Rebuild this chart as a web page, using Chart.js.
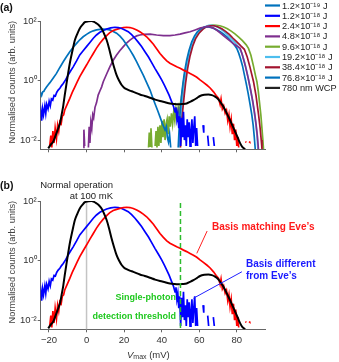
<!DOCTYPE html>
<html>
<head>
<meta charset="utf-8">
<script src="https://cdn.jsdelivr.net/npm/chart.js@4.4.1/dist/chart.umd.min.js"></script>
<style>
  body { margin: 0; background: #fff; width: 339px; height: 362px; overflow: hidden; position: relative; }
  canvas { position: absolute; left: 0; }
  #chartA { top: 0; }
  #chartB { top: 170px; }
</style>
</head>
<body>
<canvas id="chartA" width="339" height="170"></canvas>
<canvas id="chartB" width="339" height="192"></canvas>
<script>
// Axis ranges and ticks (Vmax in mV, counts on log scale)
const xMin = -24.4;
const xMax = 95;
const xTicks = [-20, 0, 20, 40, 60, 80];
const yMin = 0.0049;
const yMax = 100;
const yTicks = [0.01, 1, 100];
const yTickLabels = ["10\u207B\u00B2", "10\u2070", "10\u00B2"];

// Each series: [Vmax (mV), log10 of normalised counts]; null = no counts
const wcp = [[-20.4,-2.28],[-19,-2.15],[-17.8,-2.06],[-16.5,-1.85],[-15.1,-1.61],[-14,-1.4],[-13.3,-1.16],[-12.4,-0.85],[-11.6,-0.49],[-10.7,-0.12],[-9.8,0.24],[-8.9,0.58],[-8,0.86],[-7.1,1.12],[-6.2,1.36],[-4.9,1.57],[-3.6,1.75],[-2.2,1.87],[-0.9,1.96],[1,1.99],[2.7,2],[4,1.97],[5.3,1.92],[6.7,1.85],[8,1.75],[9.3,1.58],[10.7,1.36],[12,1.08],[13.3,0.75],[14.7,0.44],[16,0.18],[17.3,0],[18.7,-0.15],[20,-0.24],[21.3,-0.29],[23,-0.34],[24.9,-0.38],[28.4,-0.47],[31,-0.52],[33.8,-0.58],[36.5,-0.64],[39.1,-0.69],[41.8,-0.73],[44.4,-0.77],[46.7,-0.79],[48.9,-0.8],[51,-0.79],[53.3,-0.77],[55,-0.72],[56.9,-0.66],[58.7,-0.59],[60.4,-0.52],[62.7,-0.48],[64.9,-0.47],[66.7,-0.49],[68.4,-0.54],[70,-0.62],[71.1,-0.71],[72.5,-0.84],[73.8,-0.99],[75.1,-1.16],[76.4,-1.33],[77.8,-1.53],[79.1,-1.72],[80.5,-1.92],[81.8,-2.11],[83,-2.24],[84.4,-2.31]];

const e12 = [[-24.9,-1.25],[-24.4,-1],[-23.9,-1.35],[-23.4,-0.95],[-22.9,-1.15],[-22.2,-0.85],[-21.7,-1.1],[-21.2,-0.8],[-20.5,-0.95],[-19.9,-0.7],[-19.3,-0.85],[-18.7,-0.62],[-18,-0.66],[-17.3,-0.5],[-16.6,-0.52],[-15.9,-0.4],[-15.1,-0.32],[-14.2,-0.26],[-13.3,-0.17],[-12.4,-0.1],[-11.1,0.03],[-9.8,0.18],[-8.5,0.32],[-7.1,0.46],[-5.3,0.66],[-3.6,0.86],[-1.8,1],[0,1.14],[1.8,1.28],[3.6,1.42],[5.3,1.53],[7.1,1.62],[8.9,1.68],[10.7,1.73],[12.9,1.77],[15.1,1.79],[16.9,1.78],[18.7,1.75],[20.4,1.7],[22.2,1.64],[24,1.54],[25.8,1.42],[27.5,1.29],[29.3,1.14],[31.1,0.97],[32.9,0.8],[34.6,0.61],[36.4,0.41],[38.2,0.22],[40,0.02],[41.3,-0.14],[42.7,-0.32],[44,-0.5],[45.3,-0.71],[46.2,-0.85],[47.1,-1.05],[47.6,-0.9],[48.1,-1.3],[48.6,-1.1],[49.1,-1.6],[49.6,-1.2],[50.1,-2.2],[50.6,-1.25],[51.1,-1.9],[51.6,-1.05],[52.1,-2],[52.6,-1.5],[53.1,-2.2],[53.6,-1.3],[54.1,-1.9],[54.6,-1.4],[55.1,-2.2],[55.6,-1.7],[56.1,-1.3],[56.6,-2.1],[57.1,-1.6],[57.6,-1.2],[58.1,-2.2],[58.6,-1.6],[59.1,-2.2],[60,null],[62,-1.5],[62.4,-1.75],[63,null],[64.5,-1.85],[65,-2.2],[66,null],[67.5,-1.9],[68,-2.2]];

const e24 = [[-19.6,-2.2],[-19,-1.85],[-18.5,-2.25],[-17.9,-1.7],[-17.3,-2.1],[-16.7,-1.6],[-16,-1.95],[-15.4,-1.5],[-14.8,-1.7],[-14.2,-1.38],[-13.5,-1.45],[-12.9,-1.2],[-12.2,-1.15],[-11.6,-0.99],[-10.3,-0.8],[-8.9,-0.6],[-7.6,-0.4],[-6.2,-0.21],[-4.9,-0.04],[-3.6,0.13],[-1.8,0.33],[0,0.52],[1.8,0.72],[3.6,0.91],[5.3,1.09],[7.1,1.25],[8.9,1.39],[10.7,1.51],[12.4,1.61],[14.2,1.68],[16,1.72],[17.8,1.75],[19.6,1.78],[21.3,1.79],[23.1,1.78],[24.9,1.75],[26.7,1.7],[28.4,1.64],[30.2,1.56],[32,1.47],[33.8,1.35],[35.6,1.22],[37.3,1.07],[39.1,0.91],[40.9,0.78],[42.7,0.66],[44.4,0.58],[46.2,0.52],[48,0.46],[49.8,0.41],[51.6,0.35],[53.3,0.3],[55.1,0.24],[56.9,0.18],[58.7,0.11],[60.4,0.02],[62.2,-0.06],[64,-0.15],[65.8,-0.25],[67.6,-0.38],[69,-0.5],[70.3,-0.6],[71.1,-0.8],[71.6,-0.62],[72.3,-0.95],[73,-0.85],[73.8,-1.1],[74.5,-1],[75.2,-1.35],[75.8,-1.15],[76.4,-1.55],[77,-1.3],[77.6,-1.8],[78.2,-1.45],[78.8,-2],[79.4,-1.65],[80,-2.2],[80.5,-1.9],[81,-2.25],[83,null],[84.6,-2.05],[85,-2.08],[85.8,null],[86.5,-2.05],[86.9,-2.07]];

const e012 = [[-24.9,-0.55],[-24.4,-0.42],[-23.9,-0.5],[-23.3,-0.38],[-22.7,-0.36],[-22.2,-0.3],[-21.3,-0.22],[-20.4,-0.14],[-19.6,-0.08],[-17.8,0.08],[-16,0.24],[-14.2,0.44],[-12.4,0.63],[-10.7,0.8],[-8.9,0.97],[-7.1,1.12],[-5.3,1.25],[-3.6,1.37],[-1.8,1.47],[0,1.55],[1.8,1.62],[3.6,1.67],[5.3,1.7],[7.1,1.72],[8.9,1.73],[10.7,1.72],[12.4,1.7],[14.2,1.65],[16,1.59],[17.8,1.49],[19.6,1.36],[21.3,1.2],[23.1,1.03],[24.9,0.84],[26.7,0.63],[28.4,0.41],[30.2,0.18],[32,-0.07],[33.8,-0.32],[35.1,-0.55],[36.4,-0.77],[37.8,-1],[39.1,-1.22],[40.4,-1.45],[41.8,-1.66],[42.5,-1.55],[43,-1.9],[43.6,-2.06],[44.2,-1.8],[44.8,-2.25]];

const e48 = [[-1.8,-2.25],[-1.4,-1.65],[-1,-2.2],[0,null],[1,-2.25],[1.4,-1.55],[1.8,-2.1],[2.3,-1.4],[2.8,-1.6],[3.3,-1.15],[3.8,-1.25],[4.5,-0.9],[5.3,-0.75],[6.2,-0.49],[7.1,-0.35],[8,-0.22],[8.9,-0.04],[10.7,0.22],[12.4,0.46],[14.2,0.68],[16,0.86],[17.8,1.01],[19.6,1.14],[21.3,1.26],[23.1,1.36],[24.9,1.44],[26.7,1.5],[28.4,1.53],[30.2,1.55],[33.8,1.56],[37.3,1.53],[40.9,1.51],[44.4,1.51],[47.1,1.53],[49.8,1.56],[52.4,1.6],[55.1,1.64],[57.8,1.7],[60.4,1.76],[62.2,1.79],[64,1.81],[65.8,1.8],[67.6,1.76],[69.4,1.69],[71.1,1.6],[73,1.5],[75,1.4],[77,1.3],[79,1.2],[81.8,1.08],[83,0.85],[84.5,0.5],[86,0.1],[87.3,-0.3],[88.5,-0.7],[89.5,-1.1],[90.3,-1.5],[91,-1.9],[91.5,-2.3]];

const e96 = [[33,-2.25],[33.4,-1.75],[33.8,-2.2],[34.3,-1.6],[34.8,-2.25],[35.6,null],[36.5,-2.2],[37,-1.7],[37.5,-2.25],[38,-1.55],[38.5,-2.2],[39.1,-1.5],[39.6,-2.1],[40.2,-1.35],[40.7,-1.9],[41.3,-1.3],[41.8,-2],[42.4,-1.45],[42.9,-1.3],[43.5,-1.8],[44,-1.2],[44.6,-1.55],[45.2,-1.1],[45.8,-1.45],[46.4,-1.05],[47,-1.35],[47.6,-0.95],[48.2,-1.2],[48.8,-0.9],[49.4,-1.1],[50,-0.75],[50.5,-0.6],[51.3,-0.2],[52.2,0.2],[53.3,0.55],[54.5,0.88],[56,1.18],[57.5,1.4],[59,1.56],[61,1.7],[63,1.79],[65,1.84],[67,1.86],[69,1.85],[71,1.84],[73,1.8],[75,1.74],[77,1.66],[79,1.57],[81,1.46],[83,1.34],[85,1.2],[86.2,1.08],[87.5,0.85],[88.8,0.5],[90,0.15],[90.7,-0.04],[91.4,-0.35],[92.1,-0.75],[92.8,-1.16],[93.3,-1.55],[93.8,-1.95],[94.2,-2.3]];

const e192 = [[49.5,-2.25],[50,-1.5],[50.6,-1],[51.4,-0.5],[52.2,-0.05],[53.2,0.4],[54.4,0.8],[55.8,1.15],[57.3,1.42],[59,1.6],[61,1.73],[63,1.81],[65,1.85],[67,1.85],[69,1.82],[71,1.75],[73,1.65],[75,1.54],[77,1.42],[79,1.28],[81,1.12],[82.5,0.95],[84,0.65],[85.5,0.25],[86.8,-0.15],[88,-0.55],[89,-0.95],[90,-1.4],[90.7,-1.8],[91.2,-2.3]];

const e384 = [[50,-2.25],[50.6,-1.5],[51.2,-1],[52,-0.5],[52.8,-0.05],[53.8,0.4],[55,0.8],[56.5,1.15],[58,1.4],[60,1.6],[62,1.73],[64,1.81],[66,1.84],[68,1.84],[70,1.8],[72,1.74],[74,1.65],[76,1.55],[78,1.42],[80,1.3],[82,1.17],[84,1.05],[85.5,0.8],[87,0.45],[88.9,-0.04],[90.2,-0.5],[91.6,-1.16],[92.4,-1.6],[93,-2],[93.4,-2.3]];

const e768 = [[48.8,-2.25],[49.3,-1.6],[49.8,-1.1],[50.5,-0.55],[51.3,-0.1],[52.2,0.3],[53.3,0.68],[54.5,1],[56,1.3],[57.5,1.5],[59,1.64],[61,1.75],[63,1.8],[65,1.8],[67,1.77],[69,1.71],[71,1.65],[73,1.56],[75,1.45],[77,1.32],[79,1.17],[80,1.08],[81,0.92],[82,0.72],[83,0.5],[84,0.2],[85,-0.1],[86,-0.42],[87,-0.78],[88,-1.16],[88.7,-1.5],[89.3,-1.9],[89.8,-2.3]];

// Legend (panel a)
const legendLabels = ["1.2\u00D710\u207B\u00B9\u2079 J", "1.2\u00D710\u207B\u00B9\u2078 J", "2.4\u00D710\u207B\u00B9\u2078 J", "4.8\u00D710\u207B\u00B9\u2078 J", "9.6\u00D710\u207B\u00B9\u2078 J", "19.2\u00D710\u207B\u00B9\u2078 J", "38.4\u00D710\u207B\u00B9\u2078 J", "76.8\u00D710\u207B\u00B9\u2078 J", "780 nm WCP"];
const legendColors = ["#0072BD", "#0000FF", "#FF0000", "#7E2F8E", "#77AC30", "#4DBEEE", "#A2142F", "#0072BD", "#222222"];

// Panel b reference lines
const zeroV = 0;
const thresholdV = 50;

const FONT = "'Liberation Sans', Arial, sans-serif";
const AXIS = "#666";

function toPoints(series) {
  return series.map(p => ({ x: p[0], y: p[1] === null ? null : Math.pow(10, p[1]) }));
}

function lineSet(series, color, width, smooth) {
  return {
    data: toPoints(series),
    borderColor: color,
    borderWidth: width,
    pointRadius: 0,
    tension: smooth ? 0.4 : 0,
    cubicInterpolationMode: smooth ? "monotone" : "default",
    spanGaps: false,
    fill: false,
  };
}

function makeScales(showXLabels, xAxisHeight) {
  return {
    x: {
      type: "linear",
      min: xMin,
      max: xMax,
      afterBuildTicks: s => { s.ticks = xTicks.map(v => ({ value: v })); },
      afterFit: s => { s.height = xAxisHeight; },
      grid: { drawOnChartArea: false, drawTicks: true, tickLength: 3, color: AXIS },
      border: { color: AXIS, width: 1 },
      ticks: {
        display: showXLabels,
        color: "#333",
        padding: 2,
        maxRotation: 0,
        font: { size: 9.5, family: FONT },
        callback: v => String(v).replace("-", "\u2212"),
      },
    },
    y: {
      type: "logarithmic",
      min: yMin,
      max: yMax,
      afterBuildTicks: s => { s.ticks = yTicks.map(v => ({ value: v })); },
      afterFit: s => { s.width = 40.7; },
      grid: { drawOnChartArea: false, drawTicks: true, tickLength: 3, color: AXIS },
      border: { color: AXIS, width: 1 },
      ticks: {
        color: "#333",
        padding: 1,
        font: { size: 9.5, family: FONT },
        callback: (v, i) => yTickLabels[i],
      },
    },
  };
}

function drawYTitle(ctx, area) {
  ctx.save();
  ctx.translate(12, (area.top + area.bottom) / 2 - 3);
  ctx.rotate(-Math.PI / 2);
  ctx.fillStyle = "#444";
  ctx.font = "9.2px " + FONT;
  ctx.textAlign = "center";
  ctx.textBaseline = "middle";
  ctx.fillText("Normalised counts (arb. units)", 0, 0);
  ctx.restore();
}

// Panel a
const panelA = {
  id: "panelA",
  afterDraw(chart) {
    const ctx = chart.ctx;
    ctx.save();
    ctx.fillStyle = "#111";
    ctx.font = "bold 10.5px " + FONT;
    ctx.textBaseline = "middle";
    ctx.fillText("(a)", 0, 8);
    drawYTitle(ctx, chart.chartArea);
    // legend
    ctx.font = "9.2px " + FONT;
    legendLabels.forEach((label, i) => {
      const y = 5.5 + i * 10.3;
      ctx.strokeStyle = legendColors[i];
      ctx.lineWidth = 2.2;
      ctx.beginPath();
      ctx.moveTo(265, y);
      ctx.lineTo(280, y);
      ctx.stroke();
      ctx.fillStyle = "#222";
      ctx.fillText(label, 282, y + 0.5);
    });
    ctx.restore();
  },
};

const datasetsA = [
  lineSet(wcp, "#000", 2, true),
  lineSet(e12, legendColors[1], 1.7, false),
  lineSet(e24, legendColors[2], 1.7, false),
  lineSet(e012, legendColors[0], 1.7, false),
  lineSet(e48, legendColors[3], 1.7, false),
  lineSet(e768, legendColors[7], 1.7, false),
  lineSet(e384, legendColors[6], 1.7, false),
  lineSet(e192, legendColors[5], 1.7, false),
  lineSet(e96, legendColors[4], 1.7, false),
];

new Chart(document.getElementById("chartA"), {
  type: "line",
  data: { datasets: datasetsA },
  options: {
    responsive: false,
    devicePixelRatio: 1,
    animation: false,
    layout: { padding: { left: 0, right: 74, top: 21, bottom: 0 } },
    plugins: { legend: { display: false }, tooltip: { enabled: false } },
    scales: makeScales(false, 170 - 149.3),
  },
  plugins: [panelA],
});

// Panel b
const panelB = {
  id: "panelB",
  beforeDatasetsDraw(chart) {
    const ctx = chart.ctx;
    const x = chart.scales.x;
    const a = chart.chartArea;
    ctx.save();
    ctx.strokeStyle = "#c4c4c4";
    ctx.lineWidth = 1.5;
    ctx.beginPath();
    ctx.moveTo(x.getPixelForValue(zeroV), a.top + 2);
    ctx.lineTo(x.getPixelForValue(zeroV), a.bottom);
    ctx.stroke();
    ctx.restore();
  },
  afterDraw(chart) {
    const ctx = chart.ctx;
    const x = chart.scales.x;
    const y = chart.scales.y;
    const a = chart.chartArea;
    ctx.save();
    // threshold
    ctx.strokeStyle = "#2dbb2d";
    ctx.lineWidth = 1.5;
    ctx.setLineDash([5, 3]);
    ctx.beginPath();
    ctx.moveTo(x.getPixelForValue(thresholdV), a.top + 2);
    ctx.lineTo(x.getPixelForValue(thresholdV), a.bottom);
    ctx.stroke();
    ctx.setLineDash([]);
    // leader lines
    ctx.lineWidth = 1;
    ctx.strokeStyle = "#ff2020";
    ctx.beginPath();
    ctx.moveTo(x.getPixelForValue(64.2), y.getPixelForValue(9.8));
    ctx.lineTo(x.getPixelForValue(58.7), y.getPixelForValue(1.74));
    ctx.stroke();
    ctx.strokeStyle = "#2020ff";
    ctx.beginPath();
    ctx.moveTo(x.getPixelForValue(82.7), y.getPixelForValue(0.42));
    ctx.lineTo(x.getPixelForValue(56.9), y.getPixelForValue(0.054));
    ctx.stroke();

    ctx.textBaseline = "middle";
    ctx.fillStyle = "#111";
    ctx.font = "bold 10.5px " + FONT;
    ctx.textAlign = "left";
    ctx.fillText("(b)", 0, 16);

    ctx.fillStyle = "#222";
    ctx.font = "9.5px " + FONT;
    ctx.textAlign = "right";
    ctx.fillText("Normal operation", 113, 15);
    ctx.fillText("at 100 mK", 113, 26.5);

    ctx.textAlign = "left";
    ctx.font = "bold 10px " + FONT;
    ctx.fillStyle = "#ff1a1a";
    ctx.fillText("Basis matching Eve\u2019s", 212, 57);
    ctx.fillStyle = "#1a1aff";
    ctx.fillText("Basis different", 246, 94);
    ctx.fillText("from Eve\u2019s", 246, 106);

    ctx.textAlign = "right";
    ctx.font = "bold 9px " + FONT;
    ctx.fillStyle = "#1ec81e";
    ctx.fillText("Single-photon", 176, 127.5);
    ctx.fillText("detection threshold", 176, 146.5);

    drawYTitle(ctx, a);

    // x axis title: V_max (mV)
    ctx.fillStyle = "#333";
    ctx.textAlign = "left";
    ctx.font = "italic 9.5px " + FONT;
    const cx = 127;
    ctx.fillText("V", cx, 185);
    const vw = ctx.measureText("V").width;
    ctx.font = "7px " + FONT;
    ctx.fillText("max", cx + vw, 187.5);
    const mw = ctx.measureText("max").width;
    ctx.font = "9.5px " + FONT;
    ctx.fillText(" (mV)", cx + vw + mw, 185);
    ctx.restore();
  },
};

new Chart(document.getElementById("chartB"), {
  type: "line",
  data: {
    datasets: [
      lineSet(wcp, "#000", 2, true),
      lineSet(e24, "#FF0000", 1.7, false),
      lineSet(e12, "#0000FF", 1.7, false),
    ],
  },
  options: {
    responsive: false,
    devicePixelRatio: 1,
    animation: false,
    layout: { padding: { left: 0, right: 74, top: 31, bottom: 0 } },
    plugins: { legend: { display: false }, tooltip: { enabled: false } },
    scales: makeScales(true, 192 - 159.3),
  },
  plugins: [panelB],
});
</script>
</body>
</html>
